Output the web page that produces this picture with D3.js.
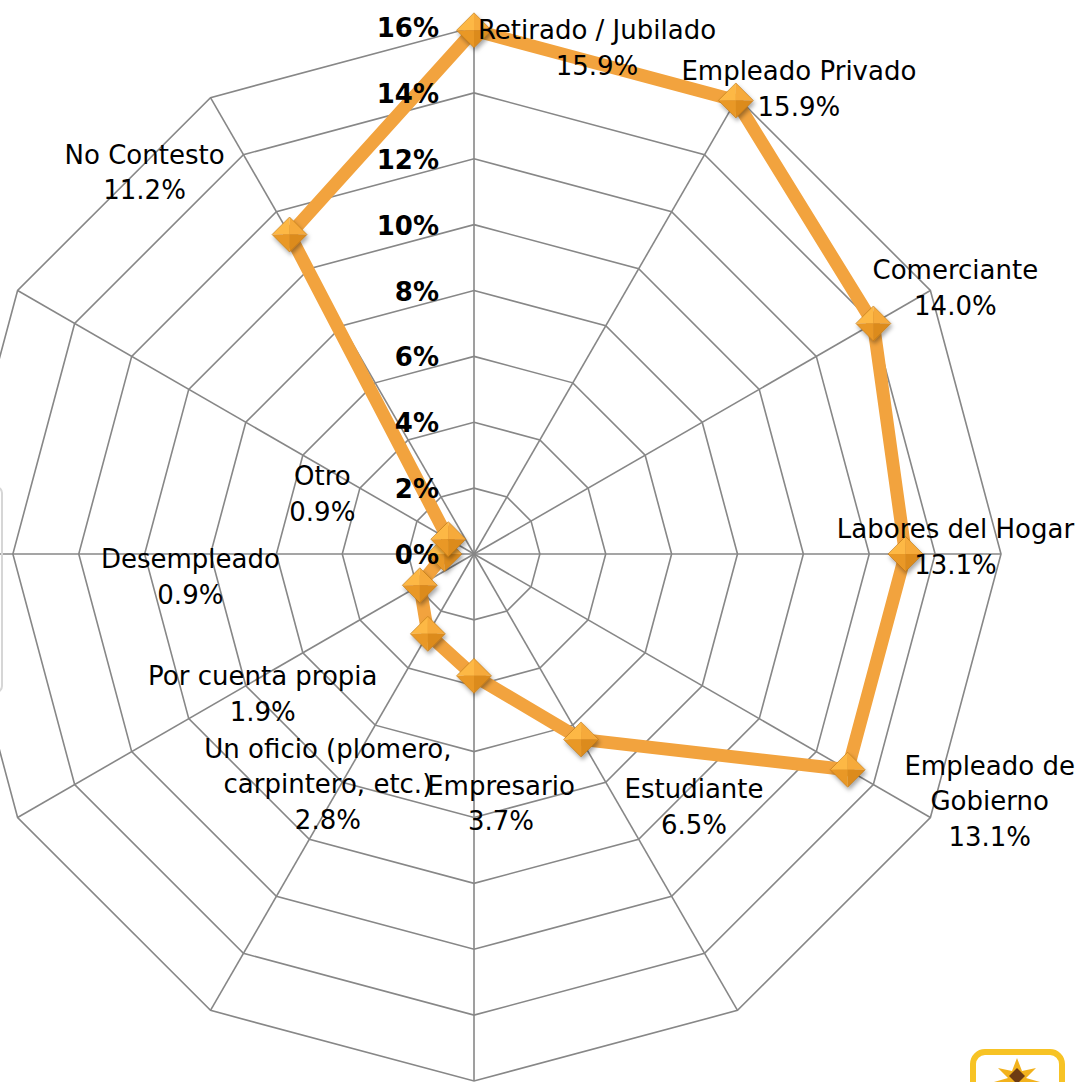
<!DOCTYPE html>
<html>
<head>
<meta charset="utf-8">
<script src="https://cdn.jsdelivr.net/npm/d3@7"></script>
<style>
  html, body { margin: 0; padding: 0; background: #ffffff; }
  svg { display: block; }
  text { font-family: "DejaVu Sans", Verdana, sans-serif; }
</style>
</head>
<body>
<svg id="chart" width="1079" height="1082"></svg>
<script>
// Occupation shares (%), clockwise from the top
const categories = [
  "Retirado / Jubilado",
  "Empleado Privado",
  "Comerciante",
  "Labores del Hogar",
  "Empleado de\nGobierno",
  "Estudiante",
  "Empresario",
  "Un oficio (plomero,\ncarpintero, etc.)",
  "Por cuenta propia",
  "Desempleado",
  "Otro",
  "No Contesto"
];
const values = [15.9, 15.9, 14.0, 13.1, 13.1, 6.5, 3.7, 2.8, 1.9, 0.9, 0.9, 11.2];
const tickValues = [0, 2, 4, 6, 8, 10, 12, 14, 16];
const tickLabels = ["0%", "2%", "4%", "6%", "8%", "10%", "12%", "14%", "16%"];

// Data-label placement relative to each point: [dx to text centre, dy to first baseline]
const labelOffsets = [
  [123, 9], [63, -20], [82, -44], [50, -16], [142, 5], [113, 59],
  [27, 119], [-100, 124], [-157, 100], [-254, 14], [-126, -54], [-145, -71]
];

const cx = 474, cy = 554, R = 527, lineH = 35.5;
const n = categories.length;

const svg = d3.select("#chart");
const defs = svg.append("defs");

const shadow = defs.append("filter").attr("id", "mshadow")
  .attr("x", "-50%").attr("y", "-50%").attr("width", "200%").attr("height", "200%");
shadow.append("feDropShadow").attr("dx", 1.5).attr("dy", 3).attr("stdDeviation", 2)
  .attr("flood-color", "#000").attr("flood-opacity", 0.35);

const r = d3.scaleLinear().domain([0, 16]).range([0, R]);
const angle = d3.scaleLinear().domain([0, n]).range([0, 2 * Math.PI]);
const fmt = d3.format(".1f");

const g = svg.append("g").attr("transform", `translate(${cx},${cy})`);

// Partial legend frame at the left edge
svg.append("rect")
  .attr("x", -40).attr("y", 487).attr("width", 42).attr("height", 205).attr("rx", 6)
  .attr("fill", "none").attr("stroke", "#d6d6d6").attr("stroke-width", 2);

// Grid rings
const ring = d3.lineRadial()
  .angle((d, i) => angle(i))
  .radius(d => r(d))
  .curve(d3.curveLinearClosed);

g.append("g").selectAll("path")
  .data(tickValues.filter(t => t > 0))
  .join("path")
  .attr("d", t => ring(d3.range(n).map(() => t)))
  .attr("fill", "none")
  .attr("stroke", "#878787")
  .attr("stroke-width", 1.6);

// Spokes
g.append("g").selectAll("line")
  .data(d3.range(n))
  .join("line")
  .attr("x1", 0).attr("y1", 0)
  .attr("x2", i => r(16) * Math.sin(angle(i)))
  .attr("y2", i => -r(16) * Math.cos(angle(i)))
  .attr("stroke", "#878787")
  .attr("stroke-width", 1.6);

// Series line
const pts = values.map((v, i) => ({
  v, i,
  x: r(v) * Math.sin(angle(i)),
  y: -r(v) * Math.cos(angle(i))
}));

g.append("path")
  .datum(values)
  .attr("d", ring)
  .attr("fill", "none")
  .attr("stroke", "#F2A33E")
  .attr("stroke-width", 13)
  .attr("stroke-linejoin", "round");

// Diamond markers with bevelled facets
const h = 17.5;
const facets = [
  { d: `M0,0L${-h},0L0,${-h}Z`, c: "#FDB845" },
  { d: `M0,0L0,${-h}L${h},0Z`, c: "#F6AA3A" },
  { d: `M0,0L${h},0L0,${h}Z`, c: "#DC8B1F" },
  { d: `M0,0L0,${h}L${-h},0Z`, c: "#E99827" }
];
const mk = g.append("g").selectAll("g")
  .data(pts)
  .join("g")
  .attr("transform", d => `translate(${d.x},${d.y})`)
  .attr("filter", "url(#mshadow)");
mk.selectAll("path.f")
  .data(facets)
  .join("path")
  .attr("class", "f")
  .attr("d", f => f.d)
  .attr("fill", f => f.c);
mk.append("path")
  .attr("d", `M0,${-h}L${h},0L0,${h}L${-h},0Z`)
  .attr("fill", "none")
  .attr("stroke", "#B5700F")
  .attr("stroke-opacity", 0.55)
  .attr("stroke-width", 1);

// Axis tick labels along the top spoke
g.append("g").selectAll("text")
  .data(tickValues)
  .join("text")
  .attr("x", -35)
  .attr("y", (t) => -r(t) + 10)
  .attr("text-anchor", "end")
  .attr("font-size", 26)
  .attr("font-weight", "bold")
  .attr("fill", "#000")
  .text((t, i) => tickLabels[i]);

// Data labels: category name plus value
const lab = g.append("g").selectAll("text")
  .data(pts)
  .join("text")
  .attr("text-anchor", "middle")
  .attr("font-size", 26)
  .attr("fill", "#000")
  .attr("transform", d => `translate(${d.x + labelOffsets[d.i][0]},${d.y + labelOffsets[d.i][1]})`);
lab.each(function (d) {
  const lines = categories[d.i].split("\n").concat([fmt(d.v) + "%"]);
  d3.select(this).selectAll("tspan")
    .data(lines)
    .join("tspan")
    .attr("x", 0)
    .attr("y", (s, k) => k * lineH)
    .text(s => s);
});

// Logo badge, bottom right
const logo = svg.append("g");
logo.append("rect")
  .attr("x", 973).attr("y", 1052).attr("width", 89).attr("height", 60).attr("rx", 12)
  .attr("fill", "#fff").attr("stroke", "#F7C325").attr("stroke-width", 6);
logo.append("path")
  .attr("d", "M1017,1058 L1022,1071 L1036,1068 L1026,1078 L1040,1082 L994,1082 L1008,1078 L998,1068 L1012,1071 Z")
  .attr("fill", "#F2B21C");
logo.append("path")
  .attr("d", "M1017,1068 L1025,1076 L1017,1084 L1009,1076 Z")
  .attr("fill", "#6E3B13");
</script>
</body>
</html>
